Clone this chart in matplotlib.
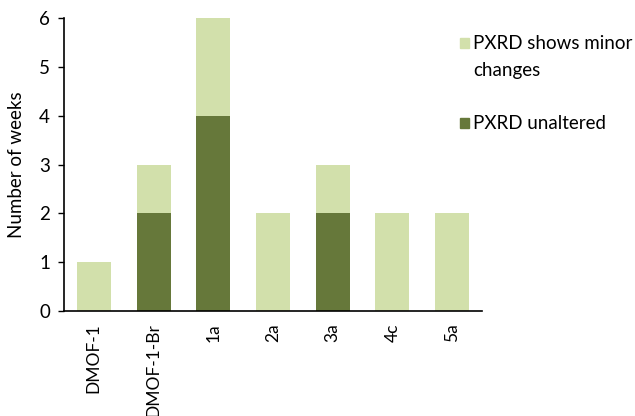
import matplotlib.pyplot as plt
from matplotlib.patches import Rectangle
import numpy as np

plt.rcParams['font.family'] = ['Lato', 'DejaVu Sans']

categories = ['DMOF-1', 'DMOF-1-Br', '1a', '2a', '3a', '4c', '5a']
unaltered = [0, 2, 4, 0, 2, 0, 0]
minor_changes = [1, 1, 2, 2, 1, 2, 2]
series_labels = ['PXRD shows minor\nchanges', 'PXRD unaltered']

dark = '#66783A'
light = '#D2E0AB'
W, H = 635, 416

fig = plt.figure(figsize=(6.35, 4.16), dpi=100)
ax = fig.add_axes([64 / W, 1 - 311 / H, 418 / W, 293 / H])

x = np.arange(len(categories))
ax.bar(x, unaltered, width=0.57, color=dark)
ax.bar(x, minor_changes, width=0.57, bottom=unaltered, color=light)

ax.set_xlim(-0.5, len(categories) - 0.5)
ax.set_ylim(0, 6)
ax.set_yticks(range(7))
ax.set_xticks(x)
ax.set_xticklabels(categories, rotation=90, fontsize=12.5)
ax.tick_params(axis='y', labelsize=13.5, length=4, width=1, pad=6)
ax.tick_params(axis='x', length=0, pad=9)
ax.set_ylabel('Number of weeks', fontsize=13.5, labelpad=10)

for s in ['top', 'right']:
    ax.spines[s].set_visible(False)
ax.spines['left'].set_linewidth(1.2)
ax.spines['bottom'].set_linewidth(1.2)

# legend drawn by hand so the swatch sits on the first text line
for label, col, yc in zip(series_labels, [light, dark], [43, 123]):
    fig.patches.append(Rectangle((460 / W, 1 - (yc + 5) / H), 9 / W, 10 / H,
                                 transform=fig.transFigure, color=col))
    fig.text(473 / W, 1 - (yc - 8) / H, label, fontsize=13.5, va='top',
             ha='left', linespacing=1.7)

plt.savefig('out.png', dpi=100)
